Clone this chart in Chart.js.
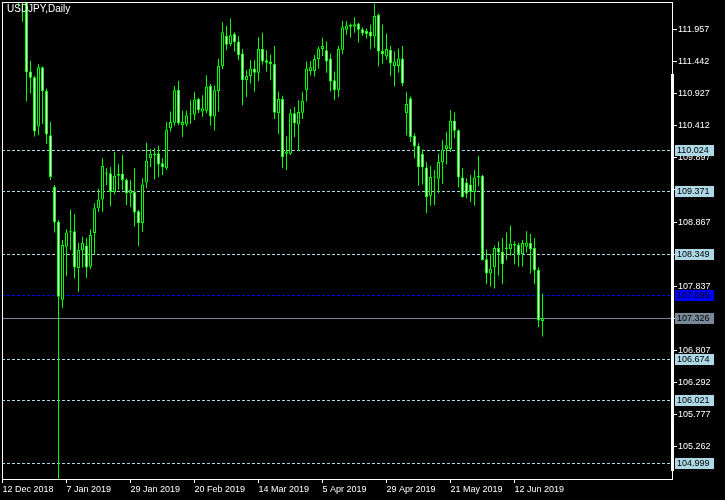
<!DOCTYPE html>
<html>
<head>
<meta charset="utf-8">
<script src="https://cdn.jsdelivr.net/npm/chart.js@4.4.1/dist/chart.umd.min.js"></script>
<style>
html, body { margin: 0; padding: 0; background: #000; }
canvas { display: block; }
</style>
</head>
<body>
<canvas id="myChart" width="725" height="500"></canvas>
<script>
// USDJPY daily, 12 Dec 2018 .. 21 Jun 2019 (one entry per bar)
var opens = [113.35, 113.54, 113.60, 113.38, 112.84, 112.49, 112.46, 111.28, 111.19, 110.40,
    111.35, 110.97, 110.26, 109.43, 108.87, 107.62, 108.47, 108.72, 108.72, 108.13,
    108.42, 108.49, 108.15, 108.69, 109.09, 109.23, 109.66, 109.65, 109.35, 109.61,
    109.64, 109.54, 109.33, 109.35, 109.04, 108.85, 109.50, 109.89, 109.96, 109.97,
    109.81, 109.73, 110.37, 110.46, 110.99, 110.42, 110.43, 110.59, 110.59, 110.84,
    110.64, 110.65, 111.05, 110.56, 110.97, 111.37, 111.85, 111.72, 111.88, 111.76,
    111.57, 111.14, 111.21, 111.33, 111.26, 111.64, 111.46, 111.44, 111.40, 110.61,
    110.84, 109.96, 109.96, 110.61, 110.43, 110.62, 110.98, 111.29, 111.29, 111.48,
    111.64, 111.62, 111.49, 111.14, 110.98, 111.63, 111.95, 112.00, 112.00, 112.05,
    111.96, 111.93, 111.92, 111.84, 112.19, 111.61, 111.52, 111.63, 111.37, 111.37,
    111.49, 110.61, 110.85, 110.25, 110.09, 109.96, 109.74, 109.29, 109.59, 109.56,
    109.83, 110.04, 110.04, 110.49, 110.34, 109.58, 109.50, 109.47, 109.35, 109.58,
    109.61, 108.27, 108.04, 108.14, 108.45, 108.39, 108.43, 108.43, 108.52, 108.50,
    108.35, 108.47, 108.53, 108.45, 108.10, 107.28];
var highs = [113.71, 113.70, 113.68, 113.42, 112.95, 112.66, 112.60, 111.45, 111.21, 111.40,
    111.36, 111.01, 110.47, 109.46, 108.90, 108.58, 108.75, 109.07, 108.99, 108.53,
    108.63, 108.61, 108.75, 109.17, 109.40, 109.89, 109.73, 109.75, 109.99, 109.80,
    109.94, 109.57, 109.54, 109.73, 109.06, 109.57, 110.14, 110.04, 110.05, 110.09,
    109.89, 110.47, 110.64, 111.05, 111.13, 110.65, 110.65, 110.82, 110.95, 110.86,
    110.90, 111.22, 111.08, 111.06, 111.48, 112.07, 112.01, 112.13, 111.91, 111.85,
    111.64, 111.30, 111.46, 111.46, 111.83, 111.90, 111.62, 111.55, 111.69, 110.96,
    110.89, 110.24, 110.68, 110.71, 110.82, 110.95, 111.44, 111.45, 111.55, 111.68,
    111.82, 111.76, 111.57, 111.28, 111.69, 112.09, 112.09, 112.05, 112.15, 112.06,
    111.99, 111.97, 112.03, 112.37, 112.21, 112.03, 111.89, 111.69, 111.60, 111.65,
    111.69, 110.95, 110.88, 110.29, 110.13, 110.03, 109.83, 109.77, 109.70, 109.96,
    110.18, 110.31, 110.66, 110.62, 110.35, 109.73, 109.57, 109.62, 109.70, 109.93,
    109.62, 108.43, 108.35, 108.49, 108.56, 108.61, 108.70, 108.81, 108.56, 108.53,
    108.58, 108.72, 108.68, 108.61, 108.14, 107.72];
var lows = [113.27, 113.38, 113.21, 112.75, 112.31, 112.08, 110.80, 110.93, 110.24, 110.26,
    110.44, 110.12, 109.54, 108.70, 104.75, 107.49, 108.00, 108.42, 107.96, 107.75,
    108.14, 107.97, 108.11, 108.35, 109.03, 109.03, 109.46, 109.12, 109.31, 109.39,
    109.38, 109.14, 109.11, 108.79, 108.48, 108.71, 109.41, 109.75, 109.55, 109.59,
    109.62, 109.70, 110.32, 110.41, 110.42, 110.23, 110.40, 110.44, 110.50, 110.61,
    110.55, 110.61, 110.41, 110.33, 110.64, 111.32, 111.62, 111.69, 111.60, 111.46,
    110.74, 110.87, 111.09, 110.96, 111.13, 111.39, 111.28, 111.14, 110.52, 110.28,
    109.73, 109.70, 109.94, 110.23, 110.01, 110.52, 110.80, 111.22, 111.20, 111.33,
    111.53, 111.26, 110.96, 110.82, 110.87, 111.56, 111.87, 111.82, 111.90, 111.74,
    111.85, 111.81, 111.64, 111.67, 111.36, 111.41, 111.47, 111.21, 111.04, 111.26,
    111.05, 110.26, 110.15, 109.89, 109.45, 109.47, 109.01, 109.13, 109.14, 109.33,
    109.48, 109.79, 109.99, 110.21, 109.42, 109.26, 109.25, 109.19, 109.13, 109.44,
    108.25, 107.87, 107.83, 107.80, 108.01, 107.87, 108.26, 108.33, 108.19, 108.15,
    108.15, 108.38, 108.04, 107.87, 107.18, 107.03];
var closes = [113.54, 113.60, 113.38, 112.84, 112.49, 112.46, 111.27, 111.18, 110.32, 111.35,
    110.97, 110.27, 109.59, 108.86, 107.67, 108.50, 108.70, 108.70, 108.14, 108.42,
    108.53, 108.14, 108.66, 109.09, 109.23, 109.77, 109.64, 109.35, 109.61, 109.64,
    109.54, 109.33, 109.38, 109.02, 108.85, 109.47, 109.85, 109.96, 109.94, 109.79,
    109.75, 110.35, 110.47, 110.98, 110.45, 110.47, 110.58, 110.60, 110.83, 110.66,
    110.69, 111.04, 110.56, 110.98, 111.37, 111.91, 111.71, 111.86, 111.75, 111.54,
    111.14, 111.21, 111.33, 111.26, 111.64, 111.44, 111.42, 111.40, 110.62, 110.84,
    109.91, 110.00, 110.61, 110.45, 110.63, 110.81, 111.33, 111.35, 111.48, 111.65,
    111.69, 111.44, 111.12, 110.98, 111.64, 111.99, 112.02, 112.03, 112.04, 111.95,
    111.89, 111.88, 111.84, 112.17, 111.60, 111.56, 111.64, 111.41, 111.44, 111.49,
    111.09, 110.76, 110.23, 110.08, 109.75, 109.74, 109.27, 109.59, 109.58, 109.83,
    110.03, 110.10, 110.49, 110.33, 109.58, 109.27, 109.32, 109.35, 109.58, 109.61,
    108.26, 108.04, 108.12, 108.45, 108.38, 108.19, 108.46, 108.52, 108.49, 108.35,
    108.53, 108.54, 108.43, 108.09, 107.29, 107.33];

var tickLabels = ['12 Dec 2018', '7 Jan 2019', '29 Jan 2019', '20 Feb 2019', '14 Mar 2019',
    '5 Apr 2019', '29 Apr 2019', '21 May 2019', '12 Jun 2019'];
var tickEvery = 16;
var priceTicks = [105.262, 105.777, 106.292, 106.807, 107.322, 107.837, 108.352,
    108.867, 109.382, 109.897, 110.412, 110.927, 111.442, 111.957];
var levels = [110.024, 109.371, 108.349, 106.674, 106.021, 104.999];
var alertLevel = 107.696;
var bidLevel = 107.326;

var bodies = opens.map(function (o, i) { return {x: i, y: [o, closes[i]]}; });
var wicks = lows.map(function (l, i) { return {x: i, y: [l, highs[i]]}; });
var bodyColors = opens.map(function (o, i) { return closes[i] >= o ? '#000000' : '#ffffff'; });

var font = {family: 'Liberation Sans', size: 9};
var fontCss = '9px "Liberation Sans"';

function hline(ctx, area, y, color, dash) {
    ctx.save();
    ctx.strokeStyle = color;
    ctx.lineWidth = 1;
    ctx.setLineDash(dash);
    ctx.beginPath();
    ctx.moveTo(area.left, Math.round(y) + 0.5);
    ctx.lineTo(area.right, Math.round(y) + 0.5);
    ctx.stroke();
    ctx.restore();
}

function priceBox(ctx, y, text, bg) {
    var top = Math.round(y) - 5;
    ctx.fillStyle = bg;
    ctx.fillRect(675, top, 39, 11);
    ctx.fillStyle = '#000';
    ctx.font = fontCss;
    ctx.textBaseline = 'middle';
    ctx.textAlign = 'left';
    ctx.fillText(text, 677, top + 6);
}

// no edge padding from the axes, the frame sits at fixed spots
function noPad(axis) {
    axis.paddingTop = 0;
    axis.paddingBottom = 0;
    axis.paddingLeft = 0;
    axis.paddingRight = 0;
}

var mt4Look = {
    id: 'mt4Look',
    beforeDraw: function (chart) {
        var ctx = chart.ctx;
        ctx.save();
        ctx.fillStyle = '#000';
        ctx.fillRect(0, 0, chart.width, chart.height);
        ctx.restore();
    },
    beforeDatasetsDraw: function (chart) {
        var ctx = chart.ctx, area = chart.chartArea, y = chart.scales.y;
        levels.forEach(function (v) {
            hline(ctx, area, y.getPixelForValue(v), '#add8e6', [3, 2]);
        });
        hline(ctx, area, y.getPixelForValue(alertLevel), '#0000ff', [3, 2]);
        hline(ctx, area, y.getPixelForValue(bidLevel), '#778899', []);
    },
    afterDraw: function (chart) {
        var ctx = chart.ctx, area = chart.chartArea, y = chart.scales.y;
        ctx.save();
        ctx.strokeStyle = '#fff';
        ctx.lineWidth = 1;
        ctx.strokeRect(area.left + 0.5, area.top + 0.5, area.right - area.left, area.bottom - area.top);
        ctx.fillStyle = '#fff';
        ctx.fillRect(area.right - 1, 74, 3, 397);

        levels.forEach(function (v) {
            priceBox(ctx, y.getPixelForValue(v), v.toFixed(3), '#add8e6');
        });
        priceBox(ctx, y.getPixelForValue(alertLevel), alertLevel.toFixed(3), '#0000ff');
        priceBox(ctx, y.getPixelForValue(bidLevel), bidLevel.toFixed(3), '#778899');

        ctx.fillStyle = '#fff';
        ctx.font = '10px "Liberation Sans"';
        ctx.textBaseline = 'top';
        ctx.textAlign = 'left';
        ctx.fillText('USDJPY,Daily', 7, 4);
        ctx.restore();
    }
};

var ctx = document.getElementById('myChart');

var myCandleChart = new Chart(ctx, {
    type: 'bar',
    data: {
        datasets: [{
            label: 'body',
            data: bodies,
            backgroundColor: bodyColors,
            borderColor: '#00ff00',
            borderWidth: 1,
            borderSkipped: false,
            inflateAmount: 0,
            minBarLength: 1,
            grouped: false,
            order: 0,
            barPercentage: 1,
            categoryPercentage: 1,
            maxBarThickness: 3
        }, {
            label: 'wick',
            data: wicks,
            backgroundColor: '#00ff00',
            borderWidth: 0,
            inflateAmount: 0,
            grouped: false,
            order: 1,
            barPercentage: 1,
            categoryPercentage: 1,
            maxBarThickness: 1
        }]
    },
    options: {
        responsive: false,
        animation: false,
        layout: {padding: {left: 2, top: 2, right: 0, bottom: 0}},
        plugins: {
            legend: {display: false},
            tooltip: {enabled: false}
        },
        scales: {
            x: {
                type: 'linear',
                offset: false,
                bounds: 'data',
                min: -0.125,
                max: 167.375,
                afterBuildTicks: function (axis) {
                    axis.ticks = tickLabels.map(function (t, k) { return {value: k * tickEvery}; });
                },
                afterFit: function (axis) { axis.height = 21; noPad(axis); },
                grid: {drawOnChartArea: false, offset: false, tickLength: 4, color: '#ffffff'},
                border: {display: false},
                ticks: {
                    color: '#ffffff',
                    font: font,
                    padding: 1,
                    align: 'start',
                    maxRotation: 0,
                    autoSkip: false,
                    callback: function (v) { return tickLabels[Math.round(v / tickEvery)]; }
                }
            },
            y: {
                position: 'right',
                bounds: 'data',
                min: 104.747,
                max: 112.395,
                afterBuildTicks: function (axis) {
                    axis.ticks = priceTicks.map(function (v) { return {value: v}; });
                },
                afterFit: function (axis) { axis.width = 53; noPad(axis); },
                grid: {drawOnChartArea: false, tickLength: 5, color: '#ffffff'},
                border: {display: false},
                ticks: {
                    color: '#ffffff',
                    font: font,
                    padding: 1,
                    autoSkip: false,
                    callback: function (v) { return v.toFixed(3); }
                }
            }
        }
    },
    plugins: [mt4Look]
});
</script>
</body>
</html>
